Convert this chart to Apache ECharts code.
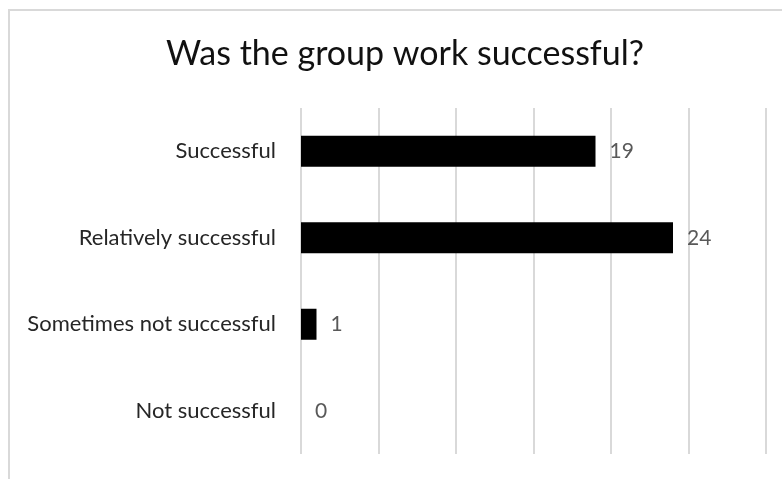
<!DOCTYPE html>
<html>
<head>
<meta charset="utf-8">
<script src="https://cdn.jsdelivr.net/npm/echarts@6/dist/echarts.min.js"></script>
<style>html,body{margin:0;padding:0;background:#fff}#c{width:782px;height:479px}</style>
</head>
<body>
<div id="c"></div>
<script>
const titleText = 'Was the group work successful?';
const categories = ['Successful', 'Relatively successful', 'Sometimes not successful', 'Not successful'];
const values = [19, 24, 1, 0];
const axisMin = 0, axisMax = 30, axisInterval = 5;

const chart = echarts.init(document.getElementById('c'));
chart.setOption({
  backgroundColor: '#fff',
  animation: false,
  title: {
    text: titleText,
    left: 400, textAlign: 'center', top: 32,
    textStyle: { fontFamily: 'Lato', fontSize: 34, fontWeight: 'normal', color: '#111' }
  },
  graphic: [{
    type: 'rect', silent: true,
    shape: { x: 9, y: 10, width: 2000, height: 2000 },
    style: { fill: 'none', stroke: '#d9d9d9', lineWidth: 2 }
  }],
  grid: { left: 301, right: 16, top: 108, bottom: 25, containLabel: false },
  xAxis: {
    type: 'value', min: axisMin, max: axisMax, interval: axisInterval,
    axisLabel: { show: false }, axisLine: { show: false }, axisTick: { show: false },
    splitLine: { show: true, lineStyle: { color: '#d9d9d9', width: 2 } }
  },
  yAxis: {
    type: 'category', data: categories, inverse: true,
    axisLine: { show: false }, axisTick: { show: false },
    axisLabel: { margin: 25, fontFamily: 'Lato', fontSize: 22, color: '#262626' }
  },
  series: [{
    type: 'bar', data: values, barWidth: 31,
    itemStyle: { color: '#000' },
    label: { show: true, position: 'right', distance: 14, fontFamily: 'Lato', fontSize: 21, color: '#595959' }
  }]
});
</script>
</body>
</html>
